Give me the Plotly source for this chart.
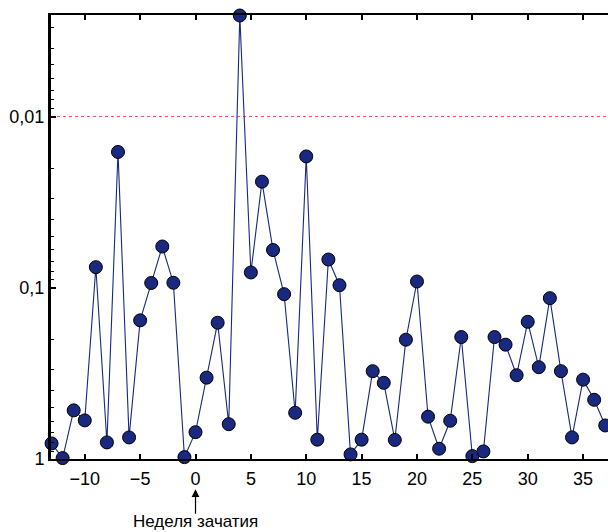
import plotly.graph_objects as go

# Week relative to conception and p-values
weeks = list(range(-13, 38))
p_values = [
    0.811, 0.988, 0.520, 0.595, 0.0758, 0.800, 0.0161, 0.748, 0.155, 0.0938,
    0.0574, 0.0935, 0.975, 0.697, 0.335, 0.160, 0.626, 0.00257, 0.0814, 0.0240,
    0.0602, 0.109, 0.537, 0.0171, 0.771, 0.0684, 0.0966, 0.940, 0.771, 0.307,
    0.359, 0.774, 0.201, 0.0919, 0.566, 0.871, 0.598, 0.194, 0.962, 0.903,
    0.194, 0.215, 0.324, 0.158, 0.291, 0.115, 0.307, 0.748, 0.344, 0.451,
    0.637,
]
threshold = 0.01

x_ticks = [-10, -5, 0, 5, 10, 15, 20, 25, 30, 35]
x_tick_labels = ["\u221210", "\u22125", "0", "5", "10", "15", "20", "25", "30", "35"]
y_ticks = [0.01, 0.1, 1]
y_tick_labels = ["0,01", "0,1", "1"]

annotation_week = 0
annotation_text = "Неделя зачатия"

x_range = [-13.05, 37.25]
y_range_log = [0, -2.593]

FONT = "Liberation Sans, Arial, Helvetica, sans-serif"
NAVY = "#18297f"

fig = go.Figure()

fig.add_trace(go.Scatter(
    x=x_range, y=[threshold, threshold],
    mode="lines",
    line=dict(color="rgb(255,80,90)", width=1, dash="dot"),
    hoverinfo="skip", showlegend=False,
))

fig.add_trace(go.Scatter(
    x=weeks, y=p_values,
    mode="lines+markers",
    line=dict(color=NAVY, width=1.1),
    marker=dict(size=13, color=NAVY, line=dict(color="black", width=1)),
    cliponaxis=False,
    showlegend=False,
))

fig.update_layout(
    width=608, height=532,
    margin=dict(l=51, r=0, t=15, b=73),
    paper_bgcolor="white", plot_bgcolor="white",
    font=dict(family=FONT, size=18, color="black"),
    showlegend=False,
)

fig.update_xaxes(
    range=x_range,
    tickvals=x_ticks, ticktext=x_tick_labels,
    showline=True, linecolor="black", linewidth=2,
    mirror="ticks",
    ticks="inside", ticklen=5, tickwidth=1.5, tickcolor="black",
    showgrid=False, zeroline=False,
    tickfont=dict(family=FONT, size=18),
    ticklabelstandoff=2,
)

fig.update_yaxes(
    type="log", range=y_range_log,
    tickvals=y_ticks, ticktext=y_tick_labels,
    showline=True, linecolor="black", linewidth=3,
    ticks="inside", ticklen=5, tickwidth=1.5, tickcolor="black",
    minor=dict(ticks="inside", ticklen=3, tickwidth=1, tickcolor="black", dtick="D1", showgrid=False),
    showgrid=False, zeroline=False,
    tickfont=dict(family=FONT, size=18),
)

# Arrow (no text) pointing up at the conception week
fig.add_annotation(
    x=annotation_week, xref="x",
    y=-0.068, yref="paper",
    text="",
    font=dict(size=1),
    borderpad=0,
    showarrow=True, ax=0, ay=25,
    arrowhead=2, arrowsize=1.3, arrowwidth=1.2, arrowcolor="black",
    standoff=0, startstandoff=0,
)
# Caption under the arrow
fig.add_annotation(
    x=annotation_week, xref="x",
    y=-0.1418, yref="paper",
    yanchor="middle", xanchor="center",
    text=annotation_text,
    showarrow=False,
    font=dict(family=FONT, size=17, color="black"),
)

fig.write_html(
    "out.html",
    config={"displayModeBar": False},
    post_script="document.body.style.margin='0';document.body.style.overflow='hidden';",
)
